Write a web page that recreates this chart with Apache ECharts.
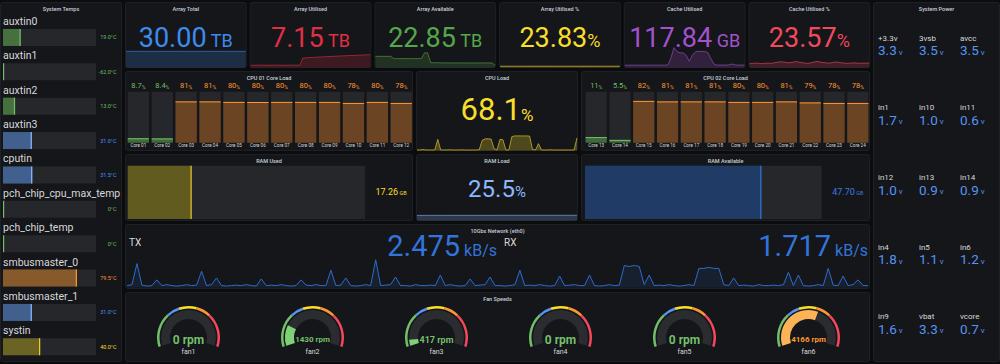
<!DOCTYPE html>
<html><head><meta charset="utf-8">
<script src="https://cdn.jsdelivr.net/npm/echarts@6/dist/echarts.min.js"></script>
<style>html,body{margin:0;padding:0;background:#0b0c0e;overflow:hidden}#c{width:1000px;height:364px}</style>
</head><body><div id="c"></div>
<script>
// ---------------- DATA ----------------
const tempNames = ['auxtin0','auxtin1','auxtin2','auxtin3','cputin','pch_chip_cpu_max_temp','pch_chip_temp','smbusmaster_0','smbusmaster_1','systin'];
const tempValues = [19.0, -62.0, 13.0, 31.0, 31.5, 0, 0, 79.5, 31.0, 40.0];

const statTitles = ['Array Total','Array Utilised','Array Available','Array Utilised %','Cache Utilised','Cache Utilised %'];
const statValues = ['30.00','7.15','22.85','23.83','117.84','23.57'];
const statUnits = [' TB',' TB',' TB','%',' GB','%'];

const sparkArrayTotal = [30,30,30,30,30,30,30,30,30,30,30,30,30,30,30,30,30,30,30,30,30,30,30,30,30,30,30,30,30,30,30,30,30,30,30,30,30,30,30,30];
const sparkArrayUsed = [6.04,6.03,6.04,6.04,6.05,6.04,6.03,6.04,6.04,6.05,6.04,6.04,6.03,6.04,6.05,6.04,6.04,6.80,6.82,6.85,6.86,6.88,6.90,6.92,6.93,6.95,6.96,6.98,7.00,7.01,7.03,7.04,7.06,7.07,7.08,7.10,7.11,7.12,7.14,7.15];
const sparkArrayAvail = [23.43,23.43,23.43,23.43,23.43,23.43,23.28,23.28,23.28,23.28,23.28,23.28,23.28,23.28,23.28,23.28,23.66,23.66,23.02,23.01,23.01,23.01,23.00,23.00,23.00,23.00,23.00,23.00,23.00,23.00,23.00,23.00,23.00,23.00,23.00,23.00,23.00,23.00,23.00,22.85];
const sparkArrayPct = [23.83,23.83,23.83,23.83,23.83,23.83,23.83,23.83,23.83,23.83,23.83,23.83,23.83,23.83,23.83,23.83,23.83,23.83,23.83,23.83,23.83,23.83,23.83,23.83,23.83,23.83,23.83,23.83,23.83,23.83,23.83,23.83,23.83,23.83,23.83,23.83,23.83,23.83,23.83,23.83];
const sparkCache = [117.6,117.5,117.7,117.6,117.8,117.6,117.5,117.7,117.6,117.8,117.7,117.6,117.8,117.7,118.5,140,175,162,158,158,150,130,150,161,163,163,162,160,140,121,118.2,118.0,118.1,118.0,119,121.5,118.5,118.0,117.9,117.84];
const sparkCachePct = [23.4,23.5,23.6,23.5,23.4,23.5,23.6,23.5,23.7,23.9,24.1,24.0,23.8,23.7,23.9,24.2,24.0,23.8,23.6,23.5,23.7,24.0,24.2,24.0,23.8,23.7,23.6,23.8,24.0,23.9,23.7,23.6,23.5,23.6,23.7,23.6,23.5,23.6,23.6,23.57];

const cpu1Cores = ['Core 01','Core 02','Core 03','Core 04','Core 05','Core 06','Core 07','Core 08','Core 09','Core 10','Core 11','Core 12'];
const cpu1Values = [8.7, 8.4, 81, 81, 80, 80, 80, 80, 80, 78, 80, 78];
const cpu2Cores = ['Core 13','Core 14','Core 15','Core 16','Core 17','Core 18','Core 19','Core 20','Core 21','Core 22','Core 23','Core 24'];
const cpu2Values = [11, 5.5, 82, 81, 81, 81, 80, 80, 81, 79, 78, 78];

const cpuLoadValue = '68.1';
const cpuLoadSpark = [3,3,5,3,3,3,3,60,3,3,3,4,3,3,3,4,3,3,3,3,3,4,55,63,63,62,10,3,60,58,3,3,75,79,79,79,79,79,78,5,3,37,3,3,3,4,3,3,3,3,3,3,3,3,68.1];

const ramTotal = 64;
const ramUsed = 17.26;
const ramAvail = 47.70;
const ramLoadValue = '25.5';
const ramLoadSpark = [24.9,25.0,24.9,25.0,25.1,25.0,25.0,25.1,25.2,25.1,25.0,25.1,25.2,25.2,25.1,25.2,25.3,25.2,25.2,25.3,25.4,25.3,25.2,25.3,25.4,25.4,25.3,25.4,25.5,25.4,25.3,25.4,25.5,25.5,25.4,25.5,25.6,25.5,25.4,25.5,25.6,25.5,25.5,25.6,25.5,25.4,25.5,25.6,25.5,25.5,25.6,25.5,25.4,25.5,25.5];

const netTx = '2.475';
const netRx = '1.717';
const netSeries = [2,3,25,2.5,1.5,2,8,2,3,2, 1.5,2,3,2,2.5,17,2,3,10,2, 1.5,2,2.5,2,3,2,1.5,9,2,2.5, 2,3,2,1.5,2,8,2.5,2,3,2, 2,18,2,2.5,10,2,1.5,2,3,2, 29,2,2.5,3,11,2,2,1.5,3,2, 2,2.5,2,13,2,3,2,1.5,2,9, 2,2.5,3,11,2,2,1.5,2,3,18, 2,2.5,2,3,2,1.5,2,12,2,2.5, 3,2,2,13,2,1.5,2,3,2,2.5, 23,22,23,22,3,13,2,2.5,2,3, 2,1.5,2,3,2,20,20,21,20,20, 3,2,10,2,2.5,2,1.5,3,2,2, 2.5,2,3,16,2,13,2,1.5,2,3, 2,20,2.5,2,12,2,3,8,2,2];

const fanNames = ['fan1','fan2','fan3','fan4','fan5','fan6'];
const fanValues = [0, 1430, 417, 0, 0, 4166];
const fanMax = 7000;
const fanSteps = [2100, 2900, 4000, 4900, 7000];

const powerLabels = ['+3.3v','3vsb','avcc','in1','in10','in11','in12','in13','in14','in4','in5','in6','in9','vbat','vcore'];
const powerValues = ['3.3','3.5','3.5','1.7','1.0','0.6','1.0','0.9','0.9','1.8','1.1','1.2','1.6','3.3','0.7'];

// ---------------- STYLE ----------------
const FONT = 'Roboto, "Open Sans", sans-serif';
const TEXT = '#d8d9da';
const PANEL_BG = '#141619';
const TRACK = '#25272b';
const PAL = {
  green: {fill:'#47703f', line:'#73BF69', text:'#73BF69'},
  dgreen:{fill:'#3f6a39', line:'#73BF69', text:'#73BF69'},
  blue:  {fill:'#42608e', line:'#8AB8FF', text:'#5794F2'},
  yellow:{fill:'#6a6323', line:'#E8CE2A', text:'#FADE2A'},
  orange:{fill:'#875a2c', line:'#FF9830', text:'#FF9830'},
  corange:{fill:'#6a4423', line:'#FF9830', text:'#FF9830'},
  ramy:  {fill:'#625b20', line:'#E0C428', text:'#FADE2A'},
  ramb:  {fill:'#1f3b66', line:'#3274D9', text:'#3d7be0'}
};
const fanColors = ['#73BF69','#5794F2','#FADE2A','#FF9830','#F2495C'];
const fanFill = ['#7fd177','#5794F2','#FADE2A','#FFB357','#F2495C'];

const g = [];
function txt(x, y, text, o) {
  o = o || {};
  const st = Object.assign({text: text, fill: o.color || TEXT, fontSize: o.size || 10, fontFamily: FONT,
    fontWeight: o.weight || 'normal', align: o.align || 'center', textAlign: o.align || 'center',
    verticalAlign: o.va || 'middle', textVerticalAlign: o.va || 'middle'}, o.rich ? {rich: o.rich} : {});
  g.push({type:'text', x: x, y: y, z: 50, silent: true, style: st});
}
function panel(x, y, w, h, title) {
  g.push({type:'rect', z: -5, silent: true, shape:{x:x+0.5, y:y+0.5, width:w-1, height:h-1, r:2}, style:{fill:PANEL_BG, stroke:'#1e2024', lineWidth:1}});
  if (title) txt(x + w/2, y + 6.5, title, {size: 5.5, weight: 500, color: '#c7d0d9'});
}
function rich(v, vs, u, us, color) {
  return {
    v: {fontSize: vs, fill: color, color: color, fontFamily: FONT, verticalAlign: 'bottom'},
    u: {fontSize: us, fill: color, color: color, fontFamily: FONT, verticalAlign: 'bottom', padding:[0,0,Math.round(vs*0.07),0]}
  };
}

// panels
panel(0, 2, 122, 360, 'System Temps');
panel(873, 2, 127, 360, 'System Power');
const statW = 121.7;
const statColors = ['#3d8bee','#E02F44','#56A64B','#FADE2A','#A352CC','#F2495C'];
for (let i = 0; i < 6; i++) {
  const x = 125 + i * 124.7;
  panel(x, 2, statW, 66, statTitles[i]);
  txt(x + statW/2, 51, '{v|' + statValues[i] + '}{u|' + statUnits[i] + '}', {rich: rich(0, 27, 0, 18, statColors[i]), va: 'bottom', size: 18});
}
panel(125, 71, 288, 80, 'CPU 01 Core Load');
panel(416, 71, 162, 80, 'CPU Load');
panel(581, 71, 289, 80, 'CPU 02 Core Load');
panel(125, 154, 288, 67, 'RAM Used');
panel(416, 154, 162, 67, 'RAM Load');
panel(581, 154, 289, 67, 'RAM Available');
panel(125, 224, 745, 65, '10Gbs Network (eth0)');
panel(125, 292, 745, 70, 'Fan Speeds');

txt(497, 125, '{v|' + cpuLoadValue + '}{u|%}', {rich: rich(0, 31, 0, 17, '#FADE2A'), va: 'bottom'});
txt(497, 201, '{v|' + ramLoadValue + '}{u|%}', {rich: rich(0, 24, 0, 15, '#8AB8FF'), va: 'bottom'});

txt(129, 242, 'TX', {align: 'left', size: 10});
txt(504, 242, 'RX', {align: 'left', size: 10});
txt(497, 260, '{v|' + netTx + '}{u| kB/s}', {align: 'right', va: 'bottom', size: 16, rich: rich(0, 29, 0, 16, '#3274D9')});
txt(868, 260, '{v|' + netRx + '}{u| kB/s}', {align: 'right', va: 'bottom', size: 16, rich: rich(0, 29, 0, 16, '#3274D9')});

for (let i = 0; i < powerLabels.length; i++) {
  const col = i % 3, row = Math.floor(i / 3);
  const x = 878 + col * 41, y = 38.3 + row * 69.6;
  txt(x, y, powerLabels[i], {align: 'left', size: 8});
  txt(x, y + 19, '{v|' + powerValues[i] + '}{u| v}', {align: 'left', va: 'bottom', size: 8, rich: rich(0, 13.5, 0, 8, '#5794F2')});
}

// ---------------- CHART ----------------
const grids = [], xAxes = [], yAxes = [], series = [];
function addGrid(l, t, w, h, xa, ya) {
  const gi = grids.length;
  grids.push({left: l, top: t, width: w, height: h, containLabel: false});
  xAxes.push(Object.assign({gridIndex: gi, show: false}, xa));
  yAxes.push(Object.assign({gridIndex: gi, show: false}, ya));
  return gi;
}
function tempPal(v) { return v >= 50 ? PAL.orange : v >= 40 ? PAL.yellow : v >= 30 ? PAL.blue : PAL.green; }
function fmtTemp(v) { return (v === 0 ? '0' : v.toFixed(1)) + '°C'; }
function T(style) {
  if (style.align) style.textAlign = style.align;
  if (style.verticalAlign) style.textVerticalAlign = style.verticalAlign;
  style.fontFamily = FONT;
  return {type: 'text', silent: true, style: style};
}

// temps
let gi = addGrid(3, 20.25, 93, 345, {type:'value', min:0, max:100}, {type:'category', data: tempNames, inverse: true});
series.push({type:'custom', xAxisIndex: gi, yAxisIndex: gi, encode:{x:0, y:1}, data: tempValues.map((v, i) => [v, i]),
  renderItem: function (params, api) {
    const idx = api.value(1), v = api.value(0);
    const c0 = api.coord([0, idx]), c1 = api.coord([100, idx]), cv = api.coord([Math.max(0, Math.min(100, v)), idx]);
    const h = 17, y0 = c0[1] - h/2, p = tempPal(v);
    return {type:'group', children: [
      {type:'rect', shape:{x:c0[0], y:y0, width:c1[0]-c0[0], height:h}, style:{fill:TRACK}},
      {type:'rect', shape:{x:c0[0], y:y0, width:cv[0]-c0[0], height:h}, style:{fill:p.fill}},
      {type:'rect', shape:{x:Math.max(c0[0], cv[0]-1.2), y:y0, width:1.2, height:h}, style:{fill:p.line}},
      T({x:c0[0], y:y0-2, text: tempNames[idx], fill: TEXT, fontSize: 10.5, align:'left', verticalAlign:'bottom'}),
      T({x:c1[0]+20.5, y:c0[1], text: fmtTemp(v), fill: p.text, fontSize: 5.5, align:'right', verticalAlign:'middle'})
    ]};
  }});

// stat sparklines
const sparks = [
  {d: sparkArrayTotal, min: 0, max: 51, c: '#3d8bee'},
  {d: sparkArrayUsed, min: 5.8, max: 8.7, c: '#E02F44'},
  {d: sparkArrayAvail, min: 22.7, max: 24.5, c: '#56A64B'},
  {d: sparkArrayPct, min: 23.7, max: 26.5, c: '#FADE2A'},
  {d: sparkCache, min: 110, max: 200, c: '#A352CC'},
  {d: sparkCachePct, min: 22, max: 32, c: '#F2495C'}
];
function sparkSeries(gi, data, color, lw, ao) {
  return {type:'line', xAxisIndex: gi, yAxisIndex: gi, data: data.map((v, i) => [i, v]), showSymbol: false, symbol: 'none',
    silent: true, animation: false,
    lineStyle: {width: lw || 1, color: color, opacity: 0.6}, areaStyle: {color: color, opacity: ao || 0.2}};
}
sparks.forEach((s, i) => {
  const x = 125 + i * 124.7;
  const k = addGrid(x + 1, 40, statW - 2, 27.5, {type:'value', min: 0, max: s.d.length - 1}, {type:'value', min: s.min, max: s.max});
  series.push(sparkSeries(k, s.d, s.c));
});

// cpu bars
function cpuRender(names) {
  return function (params, api) {
    const idx = api.value(0), v = api.value(1);
    const b = api.coord([idx, 0]), t = api.coord([idx, 100]), cv = api.coord([idx, v]);
    const bw = api.size([1, 0])[0] * 0.89;
    const p = v >= 50 ? PAL.corange : PAL.dgreen;
    const vt = v < 10 ? v.toFixed(1) : String(Math.round(v));
    return {type:'group', children: [
      {type:'rect', shape:{x:b[0]-bw/2, y:t[1], width:bw, height:b[1]-t[1]}, style:{fill:TRACK}},
      {type:'rect', shape:{x:b[0]-bw/2, y:cv[1], width:bw, height:b[1]-cv[1]}, style:{fill:p.fill}},
      {type:'rect', shape:{x:b[0]-bw/2, y:cv[1], width:bw, height:1}, style:{fill:p.line}},
      T({x:b[0], y:t[1]-2.5, text:'{v|' + vt + '}{u|%}', fill:p.text, fontSize:5, align:'center', verticalAlign:'bottom',
        rich:{v:{fontSize:7.5, fill:p.text, color:p.text, fontFamily:FONT, verticalAlign:'bottom'}, u:{fontSize:5, fill:p.text, color:p.text, fontFamily:FONT, verticalAlign:'bottom'}}}),
      T({x:b[0], y:b[1]+3.2, text:names[idx], fill:TEXT, fontSize:4.6, align:'center', verticalAlign:'middle'})
    ]};
  };
}
gi = addGrid(126.4, 91.7, 286.8, 51, {type:'category', data: cpu1Cores}, {type:'value', min: 0, max: 100});
series.push({type:'custom', xAxisIndex: gi, yAxisIndex: gi, encode:{x:0, y:1}, data: cpu1Values.map((v, i) => [i, v]), renderItem: cpuRender(cpu1Cores)});
gi = addGrid(584.3, 91.7, 285.4, 51, {type:'category', data: cpu2Cores}, {type:'value', min: 0, max: 100});
series.push({type:'custom', xAxisIndex: gi, yAxisIndex: gi, encode:{x:0, y:1}, data: cpu2Values.map((v, i) => [i, v]), renderItem: cpuRender(cpu2Cores)});

// cpu load sparkline
gi = addGrid(417, 132, 160, 18.5, {type:'value', min: 0, max: cpuLoadSpark.length - 1}, {type:'value', min: 0, max: 100});
series.push(sparkSeries(gi, cpuLoadSpark, '#FADE2A', 1, 0.25));

// ram bars
function ramRender(p, unit) {
  return function (params, api) {
    const v = api.value(0);
    const c0 = api.coord([0, 0]), c1 = api.coord([ramTotal, 0]), cv = api.coord([v, 0]);
    const h = api.size([0, 1])[1], y0 = c0[1] - h/2;
    return {type:'group', children: [
      {type:'rect', shape:{x:c0[0], y:y0, width:c1[0]-c0[0], height:h}, style:{fill:TRACK}},
      {type:'rect', shape:{x:c0[0], y:y0, width:cv[0]-c0[0], height:h}, style:{fill:p.fill}},
      {type:'rect', shape:{x:cv[0]-1.2, y:y0, width:1.2, height:h}, style:{fill:p.line}},
      T({x:c1[0]+10.5, y:c0[1]+4, text:'{v|' + v.toFixed(2) + '}{u| ' + unit + '}', fill:p.text, fontSize:5.5, align:'left', verticalAlign:'bottom',
        rich:{v:{fontSize:9, fill:p.text, color:p.text, fontFamily:FONT, verticalAlign:'bottom'}, u:{fontSize:5.5, fill:p.text, color:p.text, fontFamily:FONT, verticalAlign:'bottom'}}})
    ]};
  };
}
gi = addGrid(127.7, 165.7, 237.3, 53.3, {type:'value', min: 0, max: ramTotal}, {type:'category', data: ['RAM Used']});
series.push({type:'custom', xAxisIndex: gi, yAxisIndex: gi, encode:{x:0, y:1}, data: [[ramUsed, 0]], renderItem: ramRender(PAL.ramy, 'GB')});
gi = addGrid(585, 165.7, 236.7, 53.3, {type:'value', min: 0, max: ramTotal}, {type:'category', data: ['RAM Available']});
series.push({type:'custom', xAxisIndex: gi, yAxisIndex: gi, encode:{x:0, y:1}, data: [[ramAvail, 0]], renderItem: ramRender(PAL.ramb, 'GB')});

// ram load sparkline
gi = addGrid(417, 200, 160, 20.5, {type:'value', min: 0, max: ramLoadSpark.length - 1}, {type:'value', min: 0, max: 100});
series.push(sparkSeries(gi, ramLoadSpark, '#8AB8FF', 1, 0.22));

// network
gi = addGrid(127, 255, 741, 32.5, {type:'value', min: 0, max: netSeries.length - 1}, {type:'value', min: 0, max: 34});
series.push({type:'line', xAxisIndex: gi, yAxisIndex: gi, data: netSeries.map((v, i) => [i, v]), showSymbol: false, symbol:'none', silent: true,
  lineStyle: {width: 1, color: '#2f6bcc'}, areaStyle: {color: '#2f6bcc', opacity: 0.12}});

// fans
function fanColor(v, arr) { for (let i = 0; i < fanSteps.length; i++) if (v < fanSteps[i]) return arr[i]; return arr[arr.length - 1]; }
const bandColors = fanSteps.map((s, i) => [s / fanMax, fanColors[i]]);
fanNames.forEach((name, i) => {
  const v = fanValues[i];
  const center = [188.5 + i * 124, 337.5];
  const common = {type:'gauge', center: center, startAngle: 197.5, endAngle: -17.5, min: 0, max: fanMax, silent: true,
    splitLine:{show:false}, axisTick:{show:false}, axisLabel:{show:false}, pointer:{show:false}, anchor:{show:false}};
  series.push(Object.assign({}, common, {radius: 31.5, axisLine:{lineStyle:{width: 2.5, color: bandColors}},
    progress:{show:false}, detail:{show:false}, title:{show:false}, data:[{value: v}]}));
  const txtC = fanColor(v, fanColors);
  const fsz = String(v).length > 3 ? 8 : (String(v).length > 1 ? 9 : 12);
  series.push(Object.assign({}, common, {radius: 27.5, z: 3, axisLine:{lineStyle:{width: 9, color: [[1, '#2a2c30']]}},
    progress:{show: true, width: 9, itemStyle:{color: fanColor(v, fanFill)}},
    title:{show: true, offsetCenter:[0, 14.5], fontSize: 7, color: TEXT, fontFamily: FONT},
    detail:{show: true, offsetCenter:[0, 2], fontSize: fsz, color: txtC, fontFamily: FONT, formatter: '{v|{value}}{u| rpm}', valueAnimation: false,
      rich:{v:{fontSize: fsz, color: txtC, fontFamily: FONT}, u:{fontSize: fsz, color: txtC, fontFamily: FONT}}},
    data:[{value: v, name: name}]}));
});

const chart = echarts.init(document.getElementById('c'), null, {renderer: 'svg', width: 1000, height: 364});
chart.setOption({
  backgroundColor: '#0b0c0e',
  animation: false,
  textStyle: {fontFamily: FONT},
  grid: grids, xAxis: xAxes, yAxis: yAxes, series: series,
  graphic: {elements: g}
});
</script></body></html>
